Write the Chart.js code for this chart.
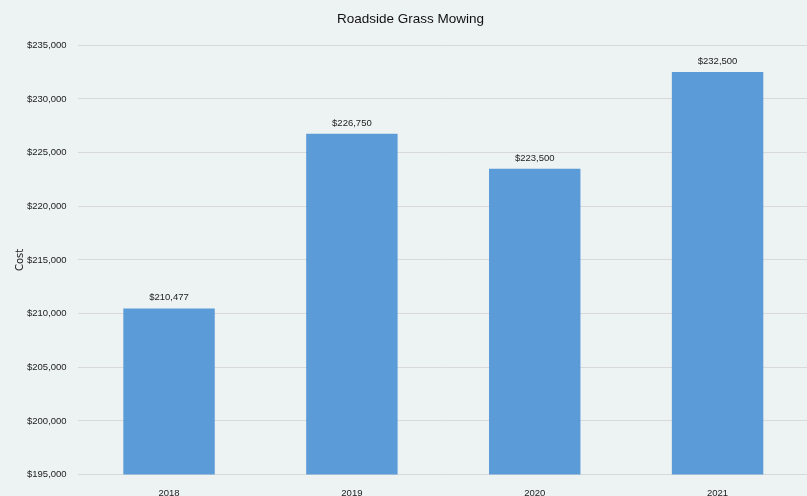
<!DOCTYPE html>
<html>
<head>
<meta charset="utf-8">
<script src="https://cdn.jsdelivr.net/npm/chart.js@4.4.1/dist/chart.umd.min.js"></script>
<style>
  html, body { margin: 0; padding: 0; background: #edf2f2; overflow: hidden; }
  #wrap { position: absolute; left: 0; top: 0; width: 809px; height: 504px; }
</style>
</head>
<body>
<div id="wrap"><canvas id="costChart"></canvas></div>
<script>
/* chart data */
const years = ["2018", "2019", "2020", "2021"];
const costs = [210477, 226750, 223500, 232500];
const yMin = 195000;
const yMax = 235000;
const yStep = 5000;

const FONT = "'Liberation Sans', Arial, sans-serif";

function money(v) {
  return "$" + Number(v).toLocaleString("en-US");
}

// draws value labels above each bar
const barValueLabels = {
  id: "barValueLabels",
  afterDatasetsDraw(chart) {
    const ctx = chart.ctx;
    const meta = chart.getDatasetMeta(0);
    ctx.save();
    ctx.font = "9.5px " + FONT;
    ctx.fillStyle = "#222";
    ctx.textAlign = "center";
    ctx.textBaseline = "bottom";
    meta.data.forEach((bar, i) => {
      ctx.fillText(money(costs[i]), bar.x, bar.y - 6);
    });
    ctx.restore();
  }
};

new Chart(document.getElementById("costChart"), {
  type: "bar",
  data: {
    labels: years,
    datasets: [{
      label: "Cost",
      data: costs,
      backgroundColor: "#5b9bd7",
      barPercentage: 0.5,
      categoryPercentage: 1.0
    }]
  },
  options: {
    responsive: true,
    maintainAspectRatio: false,
    animation: false,
    layout: { padding: { left: 12, right: 0, top: 11, bottom: 0 } },
    plugins: {
      legend: { display: false },
      tooltip: { enabled: false },
      title: {
        display: true,
        text: "Roadside Grass Mowing",
        color: "#111",
        font: { family: FONT, size: 13.5, weight: "normal" },
        padding: { top: 0, bottom: 18 }
      }
    },
    scales: {
      x: {
        grid: { display: false },
        border: { display: false },
        ticks: { color: "#222", font: { family: FONT, size: 9.5 }, padding: 5 }
      },
      y: {
        min: yMin,
        max: yMax,
        border: { display: false },
        grid: { color: "#d9d9d9", drawTicks: false },
        ticks: {
          stepSize: yStep,
          color: "#222",
          font: { family: FONT, size: 9.5 },
          padding: 11,
          callback: (v) => money(v)
        },
        title: {
          display: true,
          text: "Cost",
          color: "#222",
          font: { family: "'DejaVu Sans', sans-serif", size: 10 },
          padding: { top: 2, bottom: -10 }
        }
      }
    }
  },
  plugins: [barValueLabels]
});
</script>
</body>
</html>
